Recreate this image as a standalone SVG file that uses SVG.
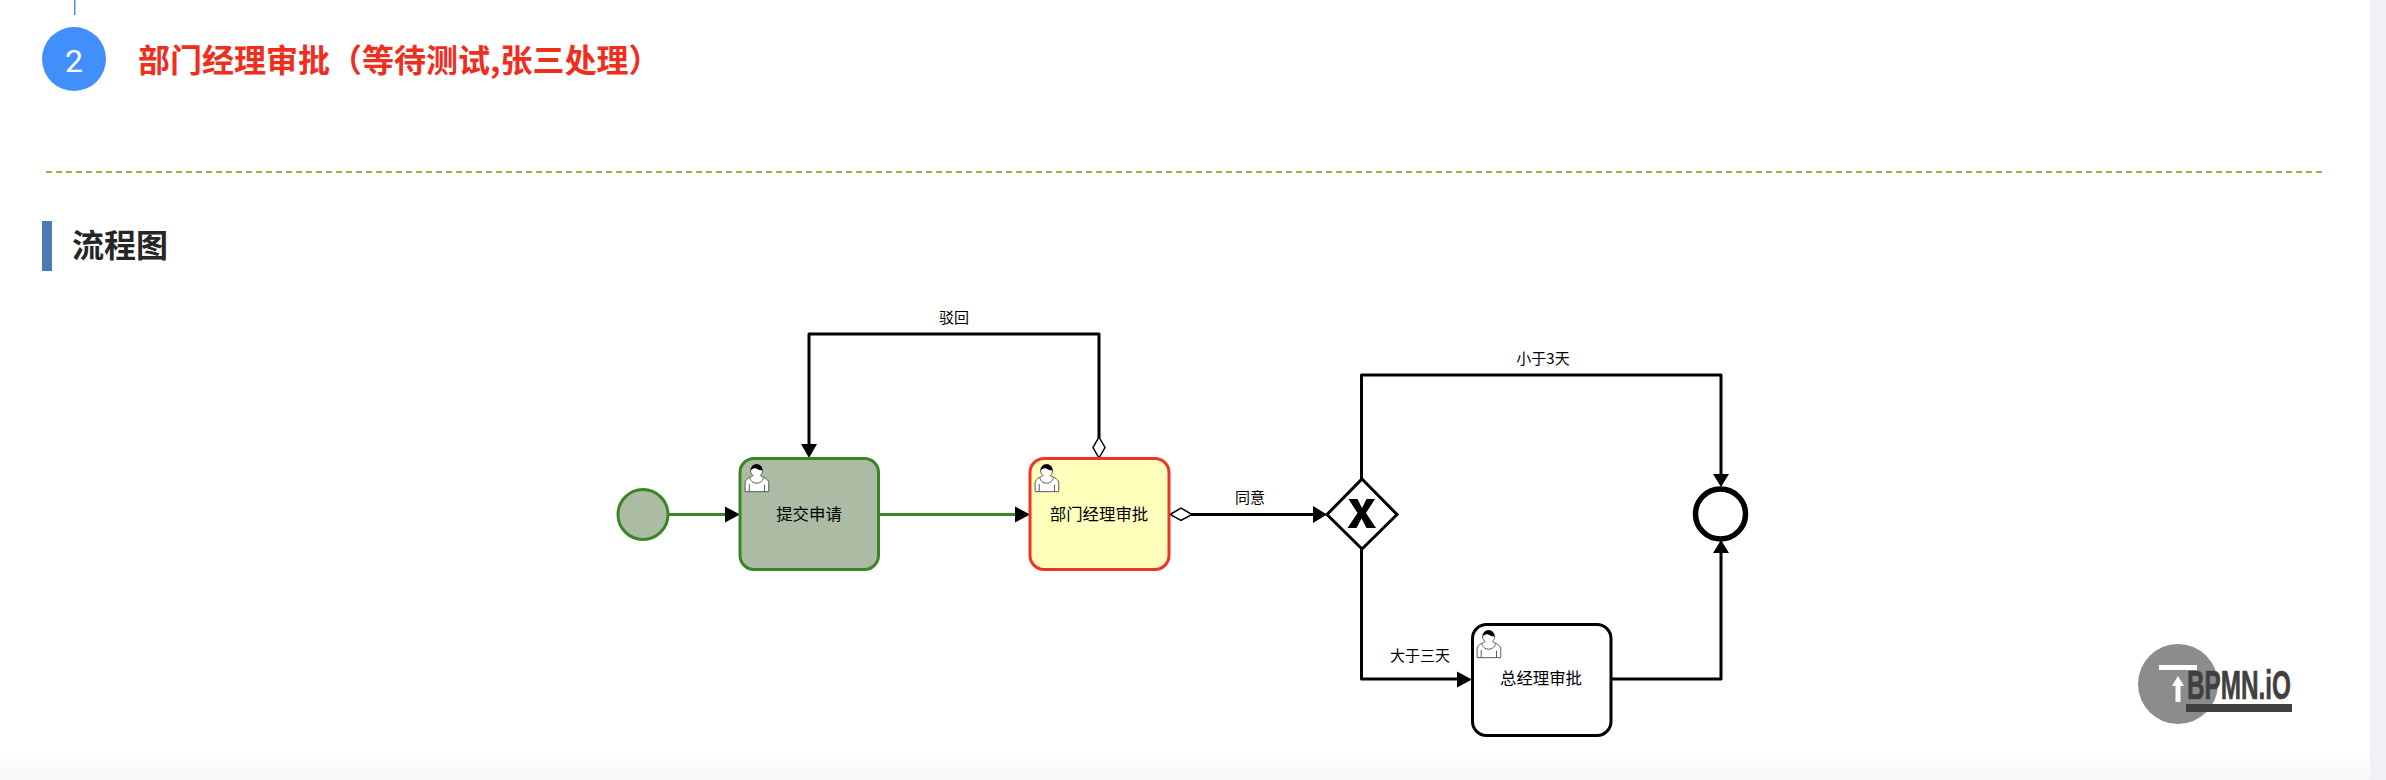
<svg xmlns="http://www.w3.org/2000/svg" width="2386" height="780" viewBox="0 0 2386 780">
<style>
.cn{font-family:"Noto Sans CJK SC","Noto Sans",sans-serif}
.t{font-size:16.4px;text-anchor:middle;fill:#000}
.l{font-size:15px;text-anchor:middle;fill:#000}
.flow{fill:none;stroke:#000;stroke-width:3;stroke-linejoin:round}
.green{stroke:#3c8527}
.task{stroke-width:3}
.icon{fill:#fff;stroke:#555;stroke-width:.7}
</style>
<defs>
<linearGradient id="fade" x1="0" y1="0" x2="0" y2="1"><stop offset="0" stop-color="#fff"/><stop offset="1" stop-color="#f8f8f8"/></linearGradient>
<g id="user" transform="scale(1.39)">
<path class="icon" d="m 15,12 c 0.909,-0.845 1.594,-2.049 1.594,-3.385 0,-2.554 -1.805,-4.622 -4.357,-4.622 -2.552,0 -4.288,2.068 -4.288,4.622 0,1.348 0.974,2.562 1.896,3.405 -0.529,0.187 -5.669,2.097 -5.794,4.756 v 6.718 h 17 v -6.718 c 0,-2.298 -5.528,-4.595 -6.051,-4.776 z m -8,6 l 0,5.5 m 11,0 l 0,-5"/>
<path class="icon" d="m 15,12 m 2.162,1.009 c 0,2.447 -2.158,4.431 -4.821,4.431 -2.665,0 -4.822,-1.981 -4.822,-4.431"/>
<path fill="#000" d="m 15,12 m -6.9,-3.8 c 0,0 2.251,-2.358 4.274,-1.177 2.024,1.181 4.221,1.537 4.124,0.965 -0.098,-0.57 -0.117,-3.791 -4.191,-4.136 -3.575,0.001 -4.208,3.367 -4.207,4.348 z"/>
</g>
</defs>
<rect width="2386" height="780" fill="#fff"/>
<rect y="750" width="2370" height="30" fill="url(#fade)"/>
<rect x="2370" width="16" height="780" fill="#f0f1f6"/>
<g id="header">
<rect x="74" y="0" width="1.5" height="15" fill="#4a90f0"/>
<circle cx="74" cy="59" r="32" fill="#418ffb"/>
<text x="74" y="72" font-family="Roboto,sans-serif" font-size="32" text-anchor="middle" fill="#fff">2</text>
<text class="cn" x="138" y="72" font-size="32" font-weight="700" fill="#ee2f1e">部门经理审批（等待测试,张三处理）</text>
<line x1="42" y1="172" x2="2322" y2="172" stroke="#8fb63f" stroke-width="2" stroke-dasharray="6 4" stroke-dashoffset="-4"/>
<rect x="42" y="221" width="10" height="50" fill="#4b7ab5"/>
<text class="cn" x="72" y="257" font-size="32" font-weight="700" fill="#262626">流程图</text>
</g>
<g id="connectors">
<path class="flow green" d="M668,514.500H727"/>
<polygon points="725,506.500 740,514.500 725,522.500" fill="#000"/>
<path class="flow green" d="M878,514.500H1017"/>
<polygon points="1015,506.500 1030,514.500 1015,522.500" fill="#000"/>
<path class="flow" d="M1099,438V334H809V446"/>
<polygon points="801,444 817,444 809,458" fill="#000"/>
<polygon points="1099,437 1105,447.500 1099,458 1093,447.500" fill="#fff" stroke="#000" stroke-width="1.500"/>
<path class="flow" d="M1191,514.500H1315"/>
<polygon points="1170,514.500 1181,508 1192,514.500 1181,520.500" fill="#fff" stroke="#000" stroke-width="1.500"/>
<polygon points="1313,506 1327,514.500 1313,523" fill="#000"/>
<path class="flow" d="M1361.500,480V375H1721V476"/>
<polygon points="1713,474 1729,474 1721,487" fill="#000"/>
<path class="flow" d="M1361.500,549V679H1460"/>
<polygon points="1457,671.500 1472,679.500 1457,687.500" fill="#000"/>
<path class="flow" d="M1611,679H1721V551"/>
<polygon points="1713,553 1729,553 1721,540" fill="#000"/>
<text class="cn l" x="954" y="323">驳回</text>
<text class="cn l" x="1250" y="502.500">同意</text>
<text class="cn l" x="1543" y="364">小于3天</text>
<text class="cn l" x="1420" y="660.500">大于三天</text>
</g>
<g id="start"><circle cx="643" cy="514.500" r="25" fill="#abbba4" stroke="#3c8527" stroke-width="3"/></g>
<g id="task1">
<rect class="task" x="740" y="458.500" width="138.500" height="111" rx="14" fill="#abbba4" stroke="#3c8527"/>
<use href="#user" x="739.500" y="459"/>
<text class="cn t" x="809" y="519.500">提交申请</text>
</g>
<g id="task2">
<rect class="task" x="1030" y="458.500" width="139" height="111" rx="14" fill="#ffffbb" stroke="#ee3425"/>
<use href="#user" x="1029.500" y="459"/>
<text class="cn t" x="1099" y="519.500">部门经理审批</text>
</g>
<g id="gateway">
<polygon points="1362,479 1397,514.500 1362,549 1327,514.500" fill="#fff" stroke="#000" stroke-width="3"/>
<path d="M1348.500,499H1357.500L1362,508L1366.500,499H1375L1366,513L1376,528H1366.500L1361.500,518.500L1356.500,528H1347.500L1357.500,513Z" fill="#000"/>
</g>
<g id="end"><circle cx="1720.500" cy="514" r="25" fill="#fff" stroke="#000" stroke-width="5.500"/></g>
<g id="task3">
<rect class="task" x="1472.500" y="624.500" width="138.500" height="111" rx="14" fill="#fff" stroke="#000"/>
<use href="#user" x="1471.500" y="625"/>
<text class="cn t" x="1541" y="684">总经理审批</text>
</g>
<g id="logo">
<circle cx="2178" cy="684" r="40" fill="#8c8c8c"/>
<rect x="2159" y="665" width="38" height="5" fill="#fff"/>
<path d="M2178,676L2184,686H2180.500V702H2175.500V686H2172Z" fill="#fff"/>
<text x="2187" y="698.500" font-family="'Liberation Sans',sans-serif" font-weight="700" font-size="40" textLength="104" lengthAdjust="spacingAndGlyphs" fill="#404040" stroke="#404040" stroke-width=".7">BPMN.iO</text>
<rect x="2186" y="704" width="106" height="8" fill="#404040"/>
</g>
</svg>
